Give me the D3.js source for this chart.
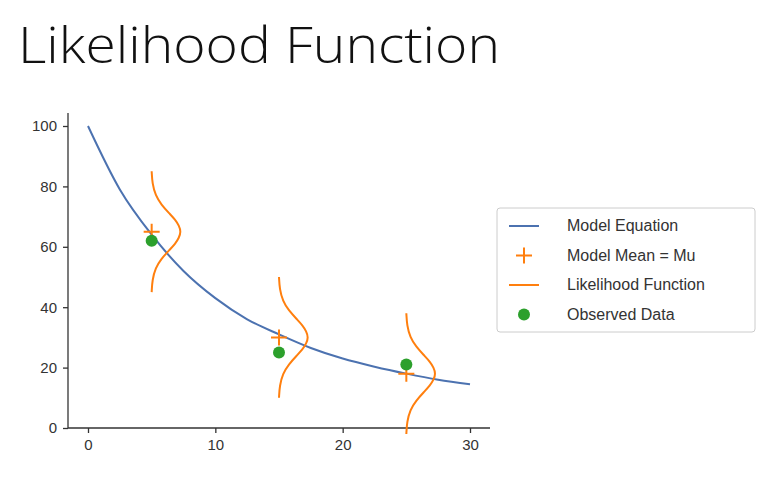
<!DOCTYPE html>
<html><head><meta charset="utf-8">
<script src="https://cdn.jsdelivr.net/npm/d3@7"></script>
<style>body{margin:0;background:#fff}</style>
</head><body><div id="content"></div>
<script>
// model curve
var curveX = [0, 2.5, 5, 7.5, 10, 12.5, 15, 17.5, 20, 22.5, 25, 27.5, 30];
var curveY = [100, 79, 64, 52, 43, 36, 31, 26.5, 23, 20.3, 18, 16, 14.5];
// model means (+) and observed data (dots)
var meanX = [5, 15, 25];
var meanY = [65, 30, 18];
var obsX = [5, 15, 25];
var obsY = [62, 25, 21];
// likelihood bulge width (x units) at offsets from mean (y units)
var bulgeDy = [-20, -16, -12, -9, -6, -4, -2, 0, 2, 4, 6, 9, 12, 16, 20];
var bulgeW = [0, 0.05, 0.3, 0.75, 1.4, 1.85, 2.15, 2.3, 2.15, 1.85, 1.4, 0.75, 0.3, 0.05, 0];
var xTicks = [0, 10, 20, 30];
var yTicks = [0, 20, 40, 60, 80, 100];
var legendLabels = ["Model Equation", "Model Mean = Mu", "Likelihood Function", "Observed Data"];

var blue = "#4c72b0", orange = "#ff7f0e", green = "#2ca02c";
var svg = d3.select("#content").append("svg").attr("width", 776).attr("height", 490);

svg.append("text").attr("x", 18).attr("y", 63).attr("font-family", "Open Sans, Lato, sans-serif")
  .attr("font-weight", 300).attr("font-size", 50).attr("fill", "#111")
  .attr("textLength", 482).attr("lengthAdjust", "spacingAndGlyphs").text("Likelihood Function");

var x = d3.scaleLinear().domain([0, 30]).range([88, 470]);
var y = d3.scaleLinear().domain([0, 100]).range([428, 126]);
var font = "Liberation Sans, Arial, sans-serif";

var ax = svg.append("g").attr("transform", "translate(0,428)")
  .call(d3.axisBottom(x).tickValues(xTicks).tickSize(5).tickPadding(6));
ax.select(".domain").attr("d", "M68,0H490");
var ay = svg.append("g").attr("transform", "translate(68,0)")
  .call(d3.axisLeft(y).tickValues(yTicks).tickSize(5).tickPadding(6));
ay.select(".domain").attr("d", "M0,113V428");
svg.selectAll(".tick text").attr("font-family", font).attr("font-size", 15).attr("fill", "#333");
svg.selectAll(".domain,.tick line").attr("stroke", "#333").attr("stroke-width", 1.3);

var line = d3.line().x(function(d){return x(d[0]);}).y(function(d){return y(d[1]);}).curve(d3.curveMonotoneX);
svg.append("path").datum(d3.zip(curveX, curveY)).attr("d", line)
  .attr("fill", "none").attr("stroke", blue).attr("stroke-width", 2);

var vline = d3.line().x(function(d){return x(d[0]);}).y(function(d){return y(d[1]);}).curve(d3.curveBasis);
meanX.forEach(function(mx, i) {
  var pts = bulgeDy.map(function(dy, j){ return [mx + bulgeW[j], meanY[i] + dy]; });
  svg.append("path").datum(pts).attr("d", vline).attr("fill", "none")
    .attr("stroke", orange).attr("stroke-width", 2);
});
meanX.forEach(function(mx, i) {
  var cx = x(mx), cy = y(meanY[i]);
  svg.append("path").attr("d", "M" + (cx-8) + "," + cy + "H" + (cx+8) + "M" + cx + "," + (cy-8) + "V" + (cy+8))
    .attr("stroke", orange).attr("stroke-width", 2);
});
svg.selectAll(".obs").data(d3.zip(obsX, obsY)).enter().append("circle")
  .attr("cx", function(d){return x(d[0]);}).attr("cy", function(d){return y(d[1]);})
  .attr("r", 6).attr("fill", green);

// legend
var lg = svg.append("g").attr("transform", "translate(497,208)");
lg.append("rect").attr("width", 258).attr("height", 124).attr("rx", 3)
  .attr("fill", "#fff").attr("stroke", "#ccc");
legendLabels.forEach(function(t, i) {
  var yy = 18 + i * 29.5;
  if (i == 0 || i == 2) lg.append("line").attr("x1", 12).attr("x2", 42).attr("y1", yy).attr("y2", yy)
    .attr("stroke", i == 0 ? blue : orange).attr("stroke-width", 2);
  if (i == 1) lg.append("path").attr("d", "M19," + yy + "H35M27," + (yy-8) + "V" + (yy+8))
    .attr("stroke", orange).attr("stroke-width", 2);
  if (i == 3) lg.append("circle").attr("cx", 27).attr("cy", yy).attr("r", 6).attr("fill", green);
  lg.append("text").attr("x", 70).attr("y", yy + 5).attr("font-family", font)
    .attr("font-size", 16).attr("fill", "#333").text(t);
});
</script></body></html>
